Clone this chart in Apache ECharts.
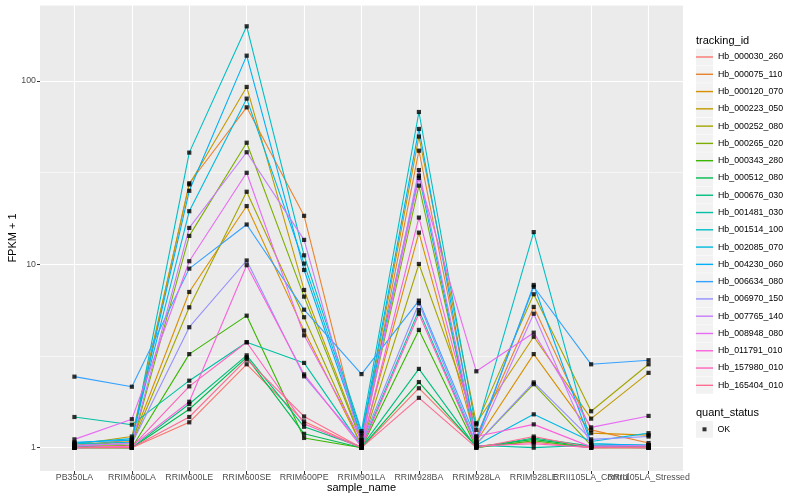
<!DOCTYPE html>
<html><head><meta charset="utf-8">
<script src="https://cdn.jsdelivr.net/npm/echarts@6/dist/echarts.min.js"></script>
<style>html,body{margin:0;padding:0;background:#fff}#c{width:800px;height:500px}</style>
</head><body><div id="c"></div>
<script>
const categories = ['PB350LA','RRIM600LA','RRIM600LE','RRIM600SE','RRIM600PE','RRIM901LA','RRIM928BA','RRIM928LA','RRIM928LE','RRII105LA_Control','RRII105LA_Stressed'];
const trackingIds = ['Hb_000030_260','Hb_000075_110','Hb_000120_070','Hb_000223_050','Hb_000252_080','Hb_000265_020','Hb_000343_280','Hb_000512_080','Hb_000676_030','Hb_001481_030','Hb_001514_100','Hb_002085_070','Hb_004230_060','Hb_006634_080','Hb_006970_150','Hb_007765_140','Hb_008948_080','Hb_011791_010','Hb_157980_010','Hb_165404_010'];
const colors = ['#F8766D','#EA8331','#D89000','#C09B00','#A3A500','#7CAE00','#39B600','#00BB4E','#00BF7D','#00C1A3','#00BFC4','#00BAE0','#00B0F6','#35A2FF','#9590FF','#C77CFF','#E76BF3','#FA62DB','#FF62BC','#FF6C91'];
const yTickLabels = [1, 10, 100];

const hb000030_260 = [1.00, 1.00, 1.375, 2.85, 1.39, 1.00, 2.11, 1.02, 1.07, 1.00, 1.00];
const hb000075_110 = [1.03, 1.10, 27.7, 71.9, 18.4, 1.05, 41.7, 1.15, 5.86, 1.25, 1.06];
const hb000120_070 = [1.02, 1.08, 7.07, 20.8, 4.35, 1.03, 14.9, 1.08, 3.24, 1.20, 1.17];
const hb000223_050 = [1.04, 1.15, 27.3, 92.9, 7.25, 1.10, 49.8, 1.36, 4.03, 1.44, 2.56];
const hb000252_080 = [1.02, 1.05, 5.83, 24.9, 5.15, 1.02, 10.05, 1.34, 6.87, 1.58, 2.85];
const hb000265_020 = [1.01, 1.03, 14.3, 46.1, 6.67, 1.08, 26.9, 1.05, 2.22, 1.03, 1.02];
const hb000343_280 = [1.00, 1.00, 3.24, 5.25, 1.13, 1.00, 4.39, 1.00, 1.09, 1.00, 1.00];
const hb000512_080 = [1.00, 1.00, 1.62, 3.11, 1.19, 1.00, 2.28, 1.01, 1.11, 1.01, 1.00];
const hb000676_030 = [1.01, 1.00, 1.73, 3.19, 1.30, 1.01, 2.69, 1.00, 1.13, 1.02, 1.01];
const hb001481_030 = [1.47, 1.335, 2.32, 3.76, 2.90, 1.02, 5.63, 1.03, 1.00, 1.03, 1.03];
const hb001514_100 = [1.05, 1.07, 40.7, 199, 11.2, 1.23, 67.8, 1.25, 15.0, 1.05, 1.03];
const hb002085_070 = [1.06, 1.12, 19.5, 80.2, 10.1, 1.20, 30.5, 1.03, 1.52, 1.08, 1.20];
const hb004230_060 = [1.07, 1.10, 25.2, 137.6, 9.32, 1.15, 54.8, 1.08, 7.72, 1.05, 1.03];
const hb006634_080 = [2.44, 2.15, 9.48, 16.5, 5.66, 2.52, 6.34, 1.11, 7.55, 2.85, 3.00];
const hb006970_150 = [1.03, 1.05, 4.54, 10.5, 2.45, 1.05, 6.14, 1.05, 2.27, 1.11, 1.15];
const hb007765_140 = [1.02, 1.06, 15.8, 40.9, 13.6, 1.03, 32.7, 1.08, 5.38, 1.02, 1.03];
const hb008948_080 = [1.11, 1.43, 10.4, 31.6, 4.10, 1.10, 29.6, 2.61, 4.24, 1.29, 1.49];
const hb011791_010 = [1.00, 1.02, 1.78, 9.9, 2.51, 1.01, 18.0, 1.15, 1.34, 1.01, 1.00];
const hb157980_010 = [1.00, 1.01, 2.16, 3.76, 1.35, 1.00, 5.38, 1.02, 1.05, 1.00, 1.01];
const hb165404_010 = [1.00, 1.00, 1.47, 3.03, 1.48, 1.00, 1.87, 1.00, 1.15, 1.00, 1.00];

const seriesValues = [hb000030_260, hb000075_110, hb000120_070, hb000223_050, hb000252_080, hb000265_020, hb000343_280, hb000512_080, hb000676_030, hb001481_030, hb001514_100, hb002085_070, hb004230_060, hb006634_080, hb006970_150, hb007765_140, hb008948_080, hb011791_010, hb157980_010, hb165404_010];

const FONT = 'Liberation Sans, Arial, Helvetica, sans-serif';
const yMin = 0.746, yMax = 260;
const xTickValues = categories.map((_, i) => i);

const series = seriesValues.map((vals, i) => ({
  type: 'line', name: trackingIds[i],
  data: vals.map((v, j) => [j, v]),
  symbol: 'none', silent: true,
  lineStyle: { color: colors[i], width: 1.1 },
  itemStyle: { color: colors[i] },
  z: 2
}));
const okPoints = [];
seriesValues.forEach(vals => vals.forEach((v, j) => okPoints.push([j, v])));
series.push({
  type: 'scatter', name: 'OK', data: okPoints, symbol: 'rect', symbolSize: 4.2,
  itemStyle: { color: '#000' }, silent: true, z: 5
});

const rowH = 17.28, firstRow = 57;
const graphics = [];
trackingIds.forEach((_, k) => {
  graphics.push({ type: 'rect', shape: { x: 696, y: firstRow - 8.4 + k * rowH, width: 17, height: 16.8 }, style: { fill: '#F2F2F2' }, z: 0 });
});
graphics.push({ type: 'rect', shape: { x: 696, y: 429.3 - 8.4, width: 17, height: 16.8 }, style: { fill: '#F2F2F2' }, z: 0 });

const chart = echarts.init(document.getElementById('c'), null, { renderer: 'canvas' });
chart.setOption({
  animation: false,
  backgroundColor: '#fff',
  textStyle: { fontFamily: FONT },
  title: [
    { text: 'tracking_id', left: 696, top: 35, padding: 0, textStyle: { fontSize: 11, fontWeight: 'normal', color: '#000', fontFamily: FONT } },
    { text: 'quant_status', left: 696, top: 407, padding: 0, textStyle: { fontSize: 11, fontWeight: 'normal', color: '#000', fontFamily: FONT } }
  ],
  graphic: graphics,
  grid: { left: 40, top: 5, right: 117, bottom: 29, show: true, backgroundColor: '#EBEBEB', borderWidth: 0, containLabel: false, outerBoundsMode: 'none' },
  legend: [
    {
      data: trackingIds, orient: 'vertical', left: 696, top: firstRow - rowH / 2, padding: 0,
      itemWidth: 17, itemHeight: 1.4, itemGap: 0, icon: 'rect',
      selectedMode: false, textStyle: { fontSize: 8.8, color: '#000', fontFamily: FONT, lineHeight: rowH }
    },
    {
      data: ['OK'], orient: 'vertical', left: 702.5, top: 429.3 - rowH / 2, padding: 0,
      itemWidth: 4, itemHeight: 4, itemGap: 0, icon: 'rect', selectedMode: false,
      textStyle: { fontSize: 8.8, color: '#000', fontFamily: FONT, lineHeight: rowH, padding: [0, 0, 0, 6] }
    }
  ],
  xAxis: {
    type: 'value', min: -0.6, max: 10.6, splitNumber: 11, minInterval: 1, maxInterval: 1,
    axisLine: { show: false, onZero: false },
    axisTick: { show: true, length: 3, customValues: xTickValues, lineStyle: { color: '#333', width: 1 } },
    axisLabel: { formatter: v => (Number.isInteger(v) && categories[v]) ? categories[v] : '', color: '#4D4D4D', fontSize: 8.8, margin: 2, hideOverlap: false, fontFamily: FONT },
    splitLine: { show: true, lineStyle: { color: '#fff', width: 1.1 } },
    name: 'sample_name', nameLocation: 'middle', nameGap: 11, nameMoveOverlap: false,
    nameTextStyle: { color: '#000', fontSize: 11, fontFamily: FONT, verticalAlign: 'top' }
  },
  yAxis: [
    {
      type: 'log', logBase: 10, min: yMin, max: yMax,
      axisLine: { show: false, onZero: false },
      axisTick: { show: true, length: 3, customValues: yTickLabels, lineStyle: { color: '#333', width: 1 } },
      axisLabel: {
        customValues: yTickLabels, showMinLabel: true, showMaxLabel: true,
        formatter: v => String(Math.round(v)),
        color: '#4D4D4D', fontSize: 8.8, margin: 4, fontFamily: FONT
      },
      splitLine: { show: true, lineStyle: { color: '#fff', width: 1.1 } },
      name: 'FPKM + 1', nameLocation: 'middle', nameGap: 22, nameRotate: 90, nameMoveOverlap: false,
      nameTextStyle: { color: '#000', fontSize: 11, fontFamily: FONT }
    },
    {
      type: 'value', min: Math.log10(yMin), max: Math.log10(yMax), splitNumber: 5, minInterval: 0.5, maxInterval: 0.5,
      axisLine: { show: false, onZero: false }, axisTick: { show: false }, axisLabel: { show: false },
      splitLine: { show: true, lineStyle: { color: '#fff', width: 0.55 } }
    }
  ],
  series: series
});
</script></body></html>
